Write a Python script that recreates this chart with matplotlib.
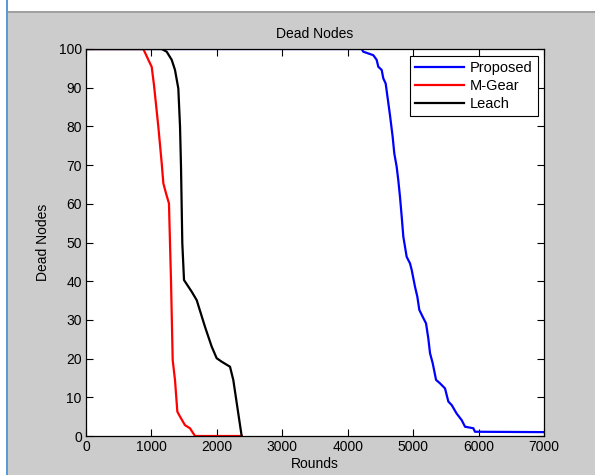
import matplotlib
matplotlib.use("Agg")
import matplotlib.pyplot as plt
from matplotlib.patches import Rectangle

plt.rcParams['font.family'] = ['Liberation Sans', 'DejaVu Sans']

# Proposed
prop_x = [0, 4213, 4238, 4391, 4442, 4468, 4519, 4544, 4580, 4621, 4646, 4687, 4712,
          4748, 4773, 4799, 4825, 4850, 4901, 4952, 4978, 5028, 5064, 5094, 5146,
          5197, 5232, 5258, 5299, 5350, 5411, 5487, 5538, 5589, 5665, 5742, 5793,
          5920, 5945, 7000]
prop_y = [100, 100, 99.3, 98.4, 97.2, 95.4, 94.6, 92.4, 91.1, 86, 82.9, 77.3, 73, 69.6,
          66.1, 61.8, 56.7, 51.5, 46.3, 44.6, 42.9, 38.6, 36, 32.6, 30.8, 29.1, 25.2,
          21.4, 18.8, 14.5, 13.6, 12.3, 8.9, 8, 5.8, 4.1, 2.4, 2, 1.1, 1]

mgear_x = [0, 876, 978, 1004, 1039, 1105, 1157, 1182, 1223, 1268, 1284, 1299, 1325,
           1360, 1396, 1437, 1513, 1589, 1666, 2379]
mgear_y = [100, 100, 96.3, 95.4, 90.7, 80, 70.5, 65.3, 62.7, 60.1, 49.8, 40.3, 19.6,
           14.5, 6.3, 5, 2.8, 2, 0, 0]

leach_x = [0, 1157, 1233, 1310, 1360, 1411, 1437, 1452, 1472, 1498, 1615, 1692, 1819,
           1921, 1997, 2074, 2201, 2251, 2379]
leach_y = [100, 100, 99.3, 97.2, 94.6, 89.8, 80, 69.6, 49.8, 40.3, 37.3, 35.1, 28.2,
           23.1, 20.1, 19.2, 17.9, 14.5, 0]

xticks = [0, 1000, 2000, 3000, 4000, 5000, 6000, 7000]
yticks = [0, 10, 20, 30, 40, 50, 60, 70, 80, 90, 100]

fig = plt.figure(figsize=(5.95, 4.75), dpi=100, facecolor='white')
# screenshot frame: grey window area with a thin blue edge on the left
fig.patches.append(Rectangle((8/595, 0), 1, 1 - 12/475, transform=fig.transFigure,
                             facecolor='#cccccc', edgecolor='none', zorder=-10))
fig.patches.append(Rectangle((8/595, 1 - 13/475), 1, 1.5/475, transform=fig.transFigure,
                             facecolor='#a0a0a0', edgecolor='none', zorder=-9))
fig.patches.append(Rectangle((5.5/595, 0), 2/595, 1, transform=fig.transFigure,
                             facecolor='#5b9bd5', edgecolor='none', zorder=-9))

ax = fig.add_axes([86/595, 1 - 436/475, 458/595, 387/475])
ax.set_facecolor('white')

ax.plot(prop_x, prop_y, color='#0000ff', lw=1.6, label='Proposed')
ax.plot(mgear_x, mgear_y, color='#ff0000', lw=1.6, label='M-Gear')
ax.plot(leach_x, leach_y, color='black', lw=1.6, label='Leach')

ax.set_xlim(0, 7000)
ax.set_ylim(0, 100)
ax.set_xticks(xticks)
ax.set_yticks(yticks)
ax.tick_params(direction='in', top=True, right=True, length=5, labelsize=10, pad=3)
for s in ax.spines.values():
    s.set_linewidth(0.9)

ax.set_title('Dead Nodes', fontsize=10, pad=8)
ax.set_xlabel('Rounds', fontsize=10, labelpad=2)
ax.set_ylabel('Dead Nodes', fontsize=10, labelpad=6)

leg = ax.legend(loc='upper right', bbox_to_anchor=(0.987, 0.981), borderaxespad=0,
                fontsize=10.5, fancybox=False, framealpha=1, edgecolor='black',
                handlelength=3.4, borderpad=0.35, labelspacing=0.25, handletextpad=0.4)
leg.get_frame().set_linewidth(0.8)

fig.savefig('out.png', dpi=100, facecolor=fig.get_facecolor())
